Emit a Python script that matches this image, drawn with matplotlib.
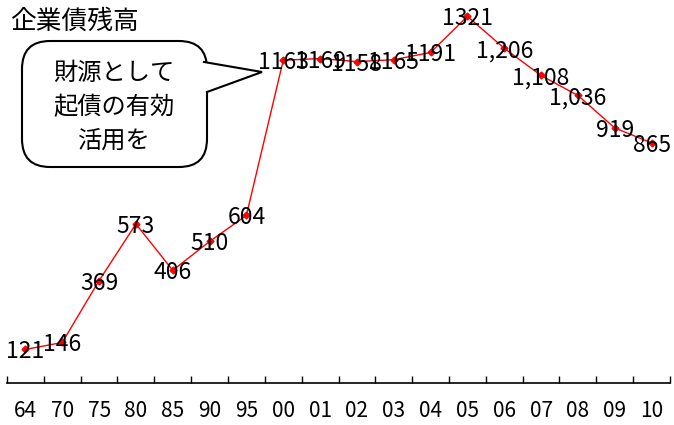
import matplotlib
matplotlib.use("Agg")
import matplotlib.pyplot as plt
from matplotlib.patches import FancyBboxPatch, Polygon
from matplotlib.ticker import FixedLocator, NullFormatter

plt.rcParams["font.family"] = ["Noto Sans CJK JP", "DejaVu Sans"]

# 企業債残高 (年度別)
YEARS = ["64", "70", "75", "80", "85", "90", "95", "00", "01", "02",
         "03", "04", "05", "06", "07", "08", "09", "10"]
BALANCE = [121, 146, 369, 573, 406, 510, 604, 1163, 1169, 1158,
           1165, 1191, 1321, 1206, 1108, 1036, 919, 865]
COMMA_YEARS = {"06", "07", "08"}          # these labels carry a thousands separator
TITLE = "企業債残高"
CALLOUT = ["財源として", "起債の有効", "活用を"]

W, H = 674, 425
fig = plt.figure(figsize=(W / 100, H / 100), dpi=100)

# ── line chart ────────────────────────────────────────────────────────────────
ax = fig.add_axes([7 / W, 42 / H, 663 / W, 383 / H])
x = list(range(len(YEARS)))
ax.plot(x, BALANCE, color="red", lw=1.0, marker="D", ms=3.5, mec="red", mfc="red", zorder=3)
for xi, yr, v in zip(x, YEARS, BALANCE):
    lab = f"{v:,}" if yr in COMMA_YEARS else str(v)
    ax.text(xi, v, lab, ha="center", va="center_baseline", fontsize=16.5,
            color="black", zorder=4)

ax.set_xlim(-0.5, len(YEARS) - 0.5)
ax.set_ylim(0, 1380)
for s in ("left", "right", "top"):
    ax.spines[s].set_visible(False)
ax.spines["bottom"].set_linewidth(1.2)
ax.set_yticks([])
# category boundaries carry the tick marks, centres carry the labels
ax.xaxis.set_major_locator(FixedLocator([i - 0.5 for i in range(len(YEARS) + 1)]))
ax.xaxis.set_major_formatter(NullFormatter())
ax.xaxis.set_minor_locator(FixedLocator(x))
ax.set_xticklabels(YEARS, minor=True, fontsize=15)
ax.tick_params(axis="x", which="major", direction="in", length=5, width=1)
ax.tick_params(axis="x", which="minor", length=0, pad=12)

# ── title and speech bubble (pixel overlay) ──────────────────────────────────
ov = fig.add_axes([0, 0, 1, 1], facecolor="none")
ov.set_xlim(0, W)
ov.set_ylim(H, 0)
ov.axis("off")
ov.text(10, 22, TITLE, ha="left", va="center", fontsize=18.5)

box = FancyBboxPatch((22, 41), 185, 126, boxstyle="round,pad=0,rounding_size=28",
                     fc="white", ec="black", lw=1.5, zorder=2)
ov.add_patch(box)
ov.add_patch(Polygon([(199, 61), (262, 72), (199, 94)], closed=True, fc="white", ec="none", zorder=3))
ov.plot([204, 262, 207], [62, 72, 92], color="black", lw=1.5, zorder=4, solid_joinstyle="miter")
for i, line in enumerate(CALLOUT):
    ov.text(114, 73 + 34 * i, line, ha="center", va="center", fontsize=17.5, zorder=5)

fig.savefig("out.png", dpi=100)
